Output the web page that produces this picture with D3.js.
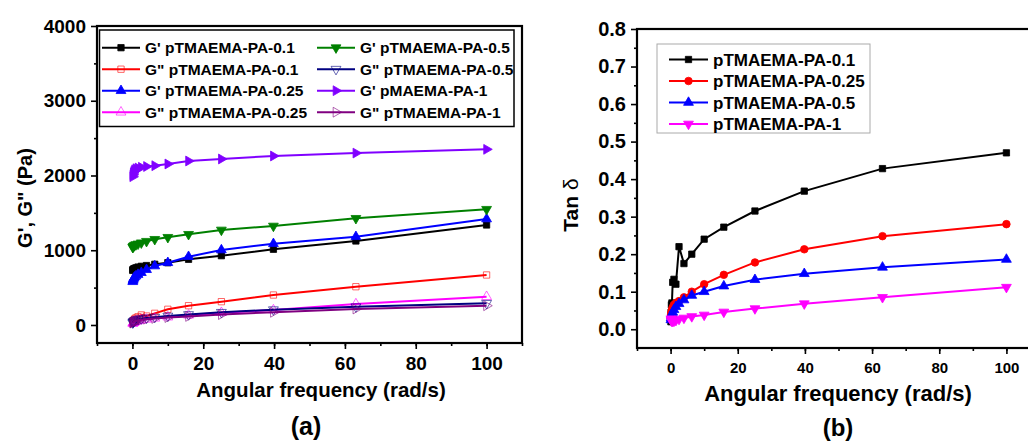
<!DOCTYPE html>
<html>
<head>
<meta charset="utf-8">
<script src="https://cdn.jsdelivr.net/npm/d3@7"></script>
<style>
  body { margin: 0; background: #fff; }
  svg { display: block; font-family: "Liberation Sans", Arial, sans-serif; font-weight: bold; }
</style>
</head>
<body>
<svg width="1028" height="441"></svg>
<script>
// frequency sweep (rad/s), shared by every series
const freq = [0.1, 0.158, 0.251, 0.398, 0.631, 1, 1.585, 2.512, 3.981, 6.31, 10, 15.85, 25.12, 39.81, 63.1, 100];

// panel (a) moduli, Pa
const gp01 = [730, 740, 745, 750, 755, 765, 775, 785, 795, 812, 833, 879, 927, 1013, 1124, 1338];
const gpp01 = [35, 45, 55, 65, 80, 95, 110, 134, 120, 156, 210, 258, 312, 401, 512, 669];
const gp025 = [579, 595, 610, 625, 640, 655, 675, 700, 740, 789, 833, 914, 1003, 1087, 1181, 1418];
const gpp025 = [20, 25, 30, 35, 40, 48, 55, 65, 75, 90, 105, 130, 165, 200, 281, 379];
const gp05 = [1039, 1045, 1052, 1060, 1068, 1076, 1085, 1100, 1120, 1146, 1173, 1213, 1271, 1324, 1427, 1548];
const gpp05 = [30, 38, 45, 52, 60, 68, 75, 85, 95, 105, 120, 140, 170, 205, 245, 290];
const gp1 = [1984, 2010, 2035, 2055, 2075, 2090, 2100, 2110, 2120, 2131, 2154, 2194, 2221, 2261, 2300, 2350];
const gpp1 = [25, 30, 36, 42, 48, 55, 62, 70, 78, 88, 100, 115, 140, 170, 214, 258];

// panel (b) tan delta
const tan01 = [0.02, 0.045, 0.065, 0.07, 0.125, 0.133, 0.12, 0.22, 0.175, 0.2, 0.24, 0.272, 0.315, 0.368, 0.428, 0.47];
const tan025 = [0.033, 0.04, 0.046, 0.052, 0.058, 0.065, 0.07, 0.075, 0.085, 0.1, 0.12, 0.145, 0.178, 0.213, 0.248, 0.28];
const tan05 = [0.025, 0.03, 0.035, 0.04, 0.045, 0.052, 0.06, 0.068, 0.078, 0.09, 0.1, 0.115, 0.132, 0.148, 0.165, 0.186];
const tan1 = [0.028, 0.025, 0.023, 0.022, 0.022, 0.022, 0.024, 0.027, 0.03, 0.034, 0.038, 0.046, 0.055, 0.068, 0.085, 0.112];

const seriesA = [
  { name: "G' pTMAEMA-PA-0.1", vals: gp01, color: "#000000", shape: "square", open: false },
  { name: 'G" pTMAEMA-PA-0.1', vals: gpp01, color: "#ff0000", shape: "square", open: true },
  { name: "G' pTMAEMA-PA-0.25", vals: gp025, color: "#0000ff", shape: "up", open: false },
  { name: 'G" pTMAEMA-PA-0.25', vals: gpp025, color: "#ff00ff", shape: "up", open: true },
  { name: "G' pTMAEMA-PA-0.5", vals: gp05, color: "#008000", shape: "down", open: false },
  { name: 'G" pTMAEMA-PA-0.5', vals: gpp05, color: "#000080", shape: "down", open: true },
  { name: "G' pMAEMA-PA-1", vals: gp1, color: "#8000ff", shape: "right", open: false },
  { name: 'G" pTMAEMA-PA-1', vals: gpp1, color: "#800080", shape: "right", open: true }
];
const seriesB = [
  { name: "pTMAEMA-PA-0.1", vals: tan01, color: "#000000", shape: "square" },
  { name: "pTMAEMA-PA-0.25", vals: tan025, color: "#ff0000", shape: "circle" },
  { name: "pTMAEMA-PA-0.5", vals: tan05, color: "#0000ff", shape: "up" },
  { name: "pTMAEMA-PA-1", vals: tan1, color: "#ff00ff", shape: "down" }
];

const svg = d3.select("svg");

function marker(g, shape, x, y, color, open) {
  let type = d3.symbolTriangle, rot = 0, size = 42;
  if (shape == "square") { type = d3.symbolSquare; size = 40; }
  if (shape == "circle") { type = d3.symbolCircle; size = 45; }
  if (shape == "down") rot = 180;
  if (shape == "right") rot = 90;
  g.append("path")
    .attr("d", d3.symbol().type(type).size(size)())
    .attr("transform", "translate(" + x + "," + y + ") rotate(" + rot + ")")
    .attr("fill", open ? "none" : color)
    .attr("stroke", color)
    .attr("stroke-opacity", open ? 0.6 : 1)
    .attr("stroke-width", open ? 1 : 0.8);
}

function drawPanel(opts) {
  const g = svg.append("g");
  const x = d3.scaleLinear().domain([-10, 110]).range([opts.left, opts.right]);
  const y = d3.scaleLinear().domain(opts.ydom).range([opts.bottom, opts.top]);

  // frame
  g.append("rect").attr("x", opts.left).attr("y", opts.top)
    .attr("width", opts.right - opts.left).attr("height", opts.bottom - opts.top)
    .attr("fill", "none").attr("stroke", "#000").attr("stroke-width", 2.2);

  // minor ticks first, then major ones with labels
  const xMinor = d3.axisBottom(x).tickValues(d3.range(-10, 111, 10)).tickSize(3).tickFormat("");
  g.append("g").attr("transform", "translate(0," + opts.bottom + ")").call(xMinor);
  const xAxis = d3.axisBottom(x).tickValues([0, 20, 40, 60, 80, 100]).tickSize(6).tickPadding(8);
  const xg = g.append("g").attr("transform", "translate(0," + opts.bottom + ")").call(xAxis);
  xg.selectAll("text").style("font-size", opts.xTickFont + "px").attr("fill", "#000");

  const yMinor = d3.axisLeft(y).tickValues(opts.yMinor).tickSize(3).tickFormat("");
  g.append("g").attr("transform", "translate(" + opts.left + ",0)").call(yMinor);
  const yAxis = d3.axisLeft(y).tickValues(opts.yTicks).tickSize(6).tickPadding(5).tickFormat(opts.yFmt);
  const yg = g.append("g").attr("transform", "translate(" + opts.left + ",0)").call(yAxis);
  yg.selectAll("text").style("font-size", opts.yTickFont + "px").attr("fill", "#000");

  g.selectAll(".domain").remove();
  g.selectAll(".tick line").attr("stroke", "#000").attr("stroke-width", 1.6);

  // data
  const plot = g.append("g");
  const line = d3.line().x((d, i) => x(freq[i])).y(d => y(d));
  opts.series.forEach(s => {
    plot.append("path").attr("d", line(s.vals)).attr("fill", "none")
      .attr("stroke", s.color).attr("stroke-width", 2);
    s.vals.forEach((v, i) => marker(plot, s.shape, x(freq[i]), y(v), s.color, s.open));
  });
  return g;
}

// ---- panel (a)
const ga = drawPanel({
  left: 97, right: 522, top: 26, bottom: 343,
  ydom: [-241, 4000],
  yTicks: [0, 1000, 2000, 3000, 4000],
  yMinor: [500, 1500, 2500, 3500],
  yFmt: d3.format("d"),
  xTickFont: 19, yTickFont: 19,
  series: seriesA
});

// legend (a), two columns
const legA = ga.append("g");
legA.append("rect").attr("x", 99.5).attr("y", 30).attr("width", 414.5).attr("height", 96.5)
  .attr("fill", "#fff").attr("stroke", "#000").attr("stroke-width", 1.5);
seriesA.forEach((s, i) => {
  const col = i < 4 ? 0 : 1, row = i % 4;
  const x0 = col == 0 ? 102 : 317, yy = 47.7 + row * 21.5;
  legA.append("line").attr("x1", x0).attr("x2", x0 + 38).attr("y1", yy).attr("y2", yy)
    .attr("stroke", s.color).attr("stroke-width", 2);
  marker(legA, s.shape, x0 + 19, yy, s.color, s.open);
  legA.append("text").attr("x", x0 + 43).attr("y", yy + 5.7).style("font-size", "15.5px").text(s.name);
});

svg.append("text").attr("transform", "translate(32,198) rotate(-90)")
  .attr("text-anchor", "middle").style("font-size", "20px").text("G', G\" (Pa)");
svg.append("text").attr("x", 321).attr("y", 397).attr("text-anchor", "middle")
  .style("font-size", "20.5px").text("Angular frequency (rad/s)");
svg.append("text").attr("x", 306).attr("y", 435).attr("text-anchor", "middle")
  .style("font-size", "25px").text("(a)");

// ---- panel (b)
const gb = drawPanel({
  left: 637, right: 1040, top: 29, bottom: 348,
  ydom: [-0.05, 0.8],
  yTicks: d3.range(0, 0.81, 0.1),
  yMinor: d3.range(0.05, 0.8, 0.1),
  yFmt: d3.format(".1f"),
  xTickFont: 15, yTickFont: 20,
  series: seriesB
});

const legB = gb.append("g");
legB.append("rect").attr("x", 657).attr("y", 44).attr("width", 213).attr("height", 89)
  .attr("fill", "#fff").attr("stroke", "#aaa").attr("stroke-width", 1);
seriesB.forEach((s, i) => {
  const yy = 59.5 + i * 21.5;
  legB.append("line").attr("x1", 669).attr("x2", 708).attr("y1", yy).attr("y2", yy)
    .attr("stroke", s.color).attr("stroke-width", 2);
  marker(legB, s.shape, 688.5, yy, s.color, false);
  legB.append("text").attr("x", 713).attr("y", yy + 6).style("font-size", "17px").text(s.name);
});

const tanLabel = svg.append("text").attr("transform", "translate(578,205) rotate(-90)")
  .attr("text-anchor", "middle").style("font-size", "21px");
tanLabel.append("tspan").text("Tan ");
tanLabel.append("tspan").style("font-weight", "normal").text("δ");
svg.append("text").attr("x", 838).attr("y", 401).attr("text-anchor", "middle")
  .style("font-size", "22px").text("Angular frequency (rad/s)");
svg.append("text").attr("x", 838).attr("y", 436).attr("text-anchor", "middle")
  .style("font-size", "24px").text("(b)");
</script>
</body>
</html>
